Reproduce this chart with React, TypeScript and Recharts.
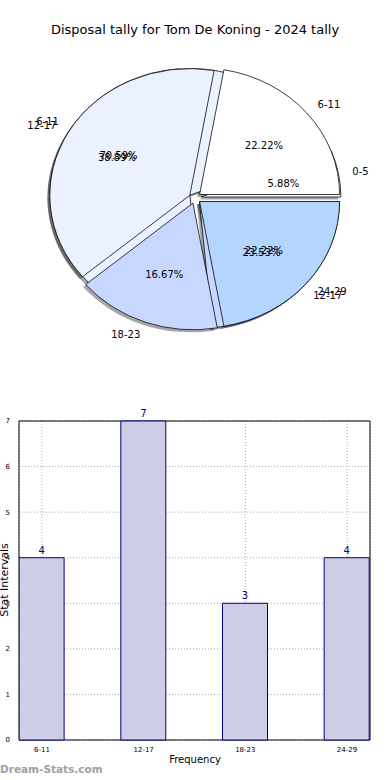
import { PieChart, Pie, Cell, BarChart, Bar, XAxis, YAxis, CartesianGrid, LabelList, ReferenceArea } from 'recharts';

const TITLE = 'Disposal tally for Tom De Koning - 2024 tally';

// 2024 tally (drawn on top)
const currentLabels = ['6-11', '12-17', '18-23', '24-29'];
const currentValues = [4, 7, 3, 4];

// second tally drawn underneath
const previousLabels = ['0-5', '6-11', '12-17'];
const previousValues = [1, 12, 4];

const barCategories = ['6-11', '12-17', '18-23', '24-29'];
const barValues = [4, 7, 3, 4];
const yTicks = [0, 1, 2, 3, 4, 5, 6, 7];

const SLICE_COLORS = ['#ffffff', '#ebf1ff', '#c6d8ff', '#b3d5ff'];
const FONT = '"DejaVu Sans", sans-serif';
const NAVY = '#000080';

// pie geometry (matplotlib draws it slightly squashed)
const CX = 195;
const CY = 198;
const R = 140;
const SY = 0.905;
const EXPLODE = 6;

const midAngles = (values: number[]) => {
  const total = values.reduce((a, b) => a + b, 0);
  let acc = 0;
  return values.map((v) => {
    const m = ((acc + v / 2) / total) * 360;
    acc += v;
    return m;
  });
};

const sliceTransform = (mid: number, shiftX = 0, shiftY = 0) => {
  const rad = (mid * Math.PI) / 180;
  const tx = CX + EXPLODE * Math.cos(rad) + shiftX;
  const ty = CY - EXPLODE * Math.sin(rad) * SY + shiftY;
  return `translate(${tx} ${ty}) scale(1 ${SY}) translate(${-CX} ${-CY})`;
};

const renderLabel = (props: any) => {
  const { cx, cy, midAngle, outerRadius, percent, name } = props;
  const rad = (midAngle * Math.PI) / 180;
  const cos = Math.cos(rad);
  const sin = Math.sin(rad);
  const bx = cx + EXPLODE * cos;
  const by = cy - EXPLODE * sin * SY;
  return (
    <g>
      <text
        x={bx + 1.1 * outerRadius * cos}
        y={by - 1.1 * outerRadius * sin * SY}
        textAnchor={cos > 0 ? 'start' : 'end'}
        dominantBaseline="central"
        fontSize={10}
        fontFamily={FONT}
        fill="#000"
      >
        {name}
      </text>
      <text
        x={bx + 0.6 * outerRadius * cos}
        y={by - 0.6 * outerRadius * sin * SY}
        textAnchor="middle"
        dominantBaseline="central"
        fontSize={10}
        fontFamily={FONT}
        fill="#000"
      >
        {(percent * 100).toFixed(2)}%
      </text>
    </g>
  );
};

const App = () => {
  const currentData = currentLabels.map((name, i) => ({ name, value: currentValues[i] }));
  const previousData = previousLabels.map((name, i) => ({ name, value: previousValues[i] }));
  const currentMids = midAngles(currentValues);
  const previousMids = midAngles(previousValues);
  const barData = barCategories.map((name, i) => ({ x: i, name, value: barValues[i] }));

  const pieCommon = {
    cx: CX,
    cy: CY,
    outerRadius: R,
    dataKey: 'value',
    nameKey: 'name',
    isAnimationActive: false,
    labelLine: false,
  };

  return (
    <div style={{ position: 'absolute', left: 0, top: 0, width: 390, height: 780, background: '#fff', fontFamily: FONT }}>
      <div style={{ position: 'absolute', left: 0, top: 22, width: 390, textAlign: 'center', fontSize: 13, color: '#000' }}>
        {TITLE}
      </div>

      <div style={{ position: 'absolute', left: 0, top: 0 }}>
        <PieChart width={390} height={380} margin={{ top: 0, right: 0, bottom: 0, left: 0 }}>
          <Pie {...pieCommon} data={previousData} label={false} stroke="none">
            {previousMids.map((m, i) => (
              <Cell key={`ps-${i}`} fill="#000" fillOpacity={0.35} transform={sliceTransform(m, -2.5, 2.5)} />
            ))}
          </Pie>
          <Pie {...pieCommon} data={currentData} label={false} stroke="none">
            {currentMids.map((m, i) => (
              <Cell key={`cs-${i}`} fill="#000" fillOpacity={0.35} transform={sliceTransform(m, -2.5, 2.5)} />
            ))}
          </Pie>
          <Pie {...pieCommon} data={previousData} label={renderLabel} stroke="#000" strokeWidth={0.8}>
            {previousMids.map((m, i) => (
              <Cell key={`p-${i}`} fill={SLICE_COLORS[i]} transform={sliceTransform(m)} />
            ))}
          </Pie>
          <Pie {...pieCommon} data={currentData} label={renderLabel} stroke="#000" strokeWidth={0.8}>
            {currentMids.map((m, i) => (
              <Cell key={`c-${i}`} fill={SLICE_COLORS[i]} transform={sliceTransform(m)} />
            ))}
          </Pie>
        </PieChart>
      </div>

      <div style={{ position: 'absolute', left: 0, top: 400 }}>
        <BarChart width={390} height={380} data={barData} margin={{ top: 21, right: 20, bottom: 0, left: 0 }}>
          <CartesianGrid stroke="#a8a8a8" strokeDasharray="1 2" />
          <XAxis
            type="number"
            dataKey="x"
            domain={[-0.226, 3.226]}
            ticks={[0, 1, 2, 3]}
            tickFormatter={(v: number) => barCategories[v]}
            allowDataOverflow
            height={40}
            axisLine={false}
            tickLine={false}
            tickMargin={1}
            tick={{ fontSize: 7, fill: '#000', fontFamily: FONT }}
          />
          <YAxis
            domain={[0, 7]}
            ticks={yTicks}
            width={19}
            axisLine={false}
            tickLine={false}
            tickMargin={3}
            tick={{ fontSize: 7, fill: '#000', fontFamily: FONT }}
          />
          <Bar dataKey="value" barSize={45} fill="#cdcde6" stroke={NAVY} strokeWidth={1} isAnimationActive={false}>
            <LabelList dataKey="value" position="top" offset={4} fill={NAVY} fontSize={10} fontFamily={FONT} />
          </Bar>
          <ReferenceArea x1={-0.226} x2={3.226} y1={0} y2={7} fill="none" stroke="#000" strokeWidth={1} ifOverflow="visible" />
        </BarChart>
      </div>

      <div style={{ position: 'absolute', left: 0, top: 754, width: 390, textAlign: 'center', fontSize: 10, color: '#000' }}>
        Frequency
      </div>
      <div
        style={{
          position: 'absolute',
          left: 4,
          top: 580,
          fontSize: 11,
          color: '#000',
          whiteSpace: 'nowrap',
          transform: 'translate(-50%, -50%) rotate(-90deg)',
        }}
      >
        Stat Intervals
      </div>
      <div style={{ position: 'absolute', left: 0, top: 763, fontSize: 10.5, fontWeight: 'bold', color: '#a0a0a0' }}>
        Dream-Stats.com
      </div>
    </div>
  );
};

export default App;
